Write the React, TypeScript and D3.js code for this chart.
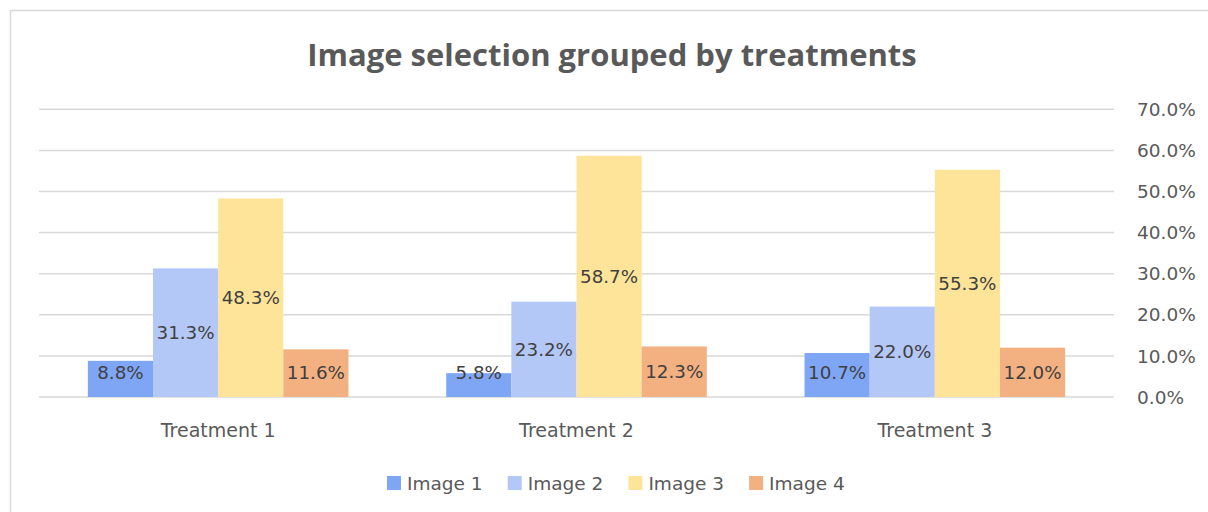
import * as d3 from "d3";

const categories = ["Treatment 1", "Treatment 2", "Treatment 3"];
const seriesNames = ["Image 1", "Image 2", "Image 3", "Image 4"];
const seriesColors = ["#7fa6f5", "#b4c8f8", "#fee498", "#f3b182"];
// values in percent, per series, in category order
const image1 = [8.8, 5.8, 10.7];
const image2 = [31.3, 23.2, 22.0];
const image3 = [48.3, 58.7, 55.3];
const image4 = [11.6, 12.3, 12.0];
const yTicks = [0, 10, 20, 30, 40, 50, 60, 70];

const series = [image1, image2, image3, image4];

const W = 1208;
const H = 512;
const plot = { left: 39, right: 1114, top: 109.3, bottom: 397 };
const textColor = "#595959";
const font = "'DejaVu Sans', sans-serif";

export default function App() {
  const x0 = d3.scaleBand<string>().domain(categories).range([plot.left, plot.right]).padding(0);
  const x1 = d3
    .scaleBand<string>()
    .domain(seriesNames)
    .range([0, x0.bandwidth()])
    .paddingInner(0)
    .paddingOuter(0.75);
  const y = d3.scaleLinear().domain([0, 70]).range([plot.bottom, plot.top]);
  const fmt = d3.format(".1f");

  return (
    <svg
      width={W}
      height={H}
      style={{ position: "absolute", left: 0, top: 0, background: "#fff" }}
      fontFamily={font}
    >
      {/* chart frame */}
      <rect x={10.5} y={10.5} width={W + 20} height={H + 20} fill="#fff" stroke="#d9d9d9" strokeWidth={1.5} />

      <text
        x={612}
        y={66}
        textAnchor="middle"
        fontSize={31}
        fontWeight={700}
        fontFamily="'Open Sans', sans-serif"
        fill={textColor}
      >
        Image selection grouped by treatments
      </text>

      {/* gridlines */}
      {yTicks.map((t) => (
        <line
          key={t}
          x1={plot.left}
          x2={plot.right}
          y1={y(t)}
          y2={y(t)}
          stroke="#d9d9d9"
          strokeWidth={1.5}
        />
      ))}

      {/* y axis labels on the right */}
      {yTicks.map((t) => (
        <text key={t} x={1137} y={y(t)} dy="0.36em" fontSize={18.5} fill={textColor}>
          {fmt(t)}%
        </text>
      ))}

      {/* bars */}
      {categories.map((c, ci) => (
        <g key={c} transform={`translate(${x0(c)},0)`}>
          {series.map((vals, si) => {
            const v = vals[ci];
            const bx = x1(seriesNames[si])!;
            const top = y(v);
            const cy = Math.min((top + y(0)) / 2, y(0) - 25);
            return (
              <g key={si}>
                <rect x={bx} y={top} width={x1.bandwidth()} height={y(0) - top} fill={seriesColors[si]} />
                <text
                  x={bx + x1.bandwidth() / 2}
                  y={cy}
                  dy="0.36em"
                  textAnchor="middle"
                  fontSize={18.3}
                  fill="#404040"
                >
                  {fmt(v)}%
                </text>
              </g>
            );
          })}
        </g>
      ))}

      {/* category labels */}
      {categories.map((c) => (
        <text
          key={c}
          x={x0(c)! + x0.bandwidth() / 2}
          y={430}
          dy="0.36em"
          textAnchor="middle"
          fontSize={19}
          fill={textColor}
        >
          {c}
        </text>
      ))}

      {/* legend */}
      {seriesNames.map((s, i) => (
        <g key={s} transform={`translate(${387 + i * 120.7},476)`}>
          <rect width={14} height={14} fill={seriesColors[i]} />
          <text x={20} y={7} dy="0.36em" fontSize={18.5} fill={textColor}>
            {s}
          </text>
        </g>
      ))}
    </svg>
  );
}
